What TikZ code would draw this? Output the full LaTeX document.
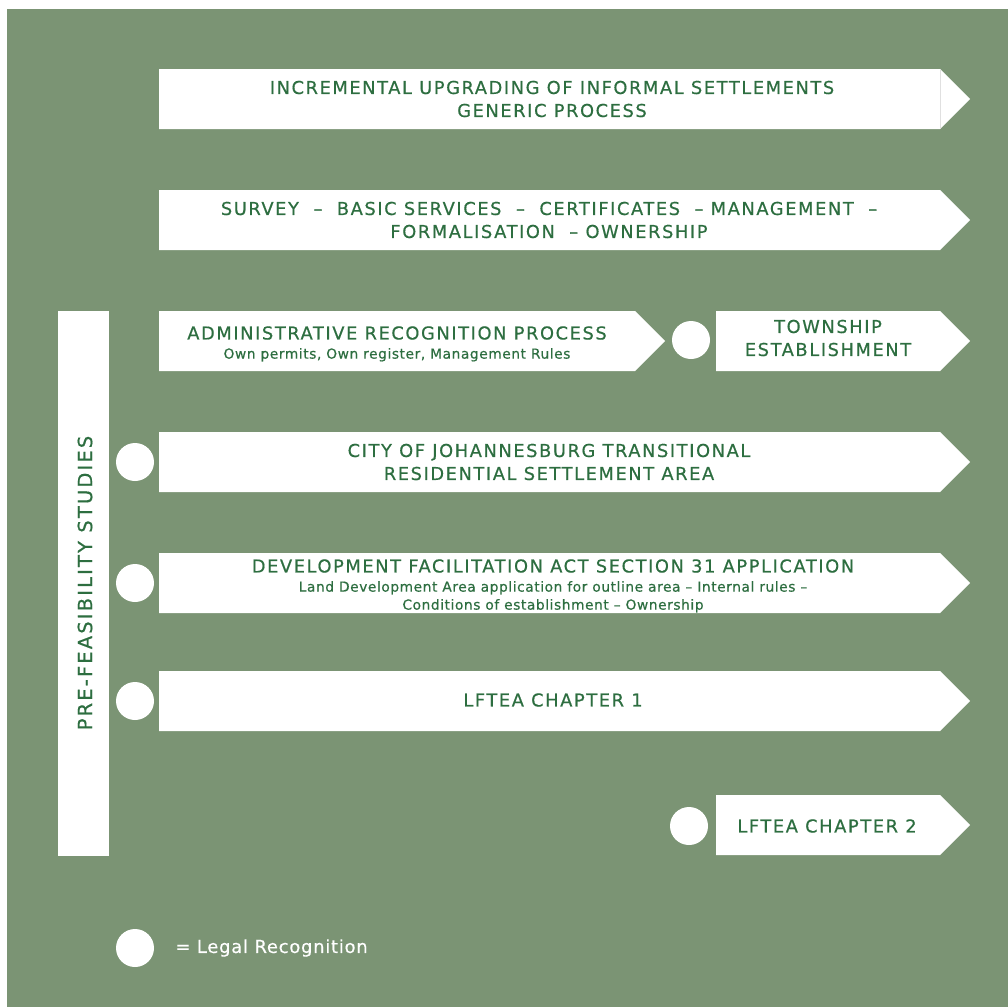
\documentclass[tikz,border=0pt]{standalone}
\usepackage{fontspec}
\setmainfont{DejaVu Sans}
\newfontfamily\capsfont{DejaVu Sans}[LetterSpace=9, FakeBold=0.5]
\newfontfamily\notefont{DejaVu Sans}[LetterSpace=4, FakeBold=0.4]
\usepackage{xcolor}
\definecolor{sagebg}{HTML}{7B9474}
\definecolor{textgreen}{HTML}{2D6E40}
\usepackage{tikz}
\usetikzlibrary{positioning}

\begin{document}
\begin{tikzpicture}[x=1pt, y=-1pt,
    bigtext/.style={font=\capsfont\fontsize{17.8}{23}\selectfont, text=textgreen, align=center, inner sep=0pt},
    smalltext/.style={font=\notefont\fontsize{13.8}{18}\selectfont, text=textgreen, align=center, inner sep=0pt},
    legalmark/.style={circle, fill=white, minimum size=38pt, inner sep=0pt}]
    \useasboundingbox (0,0) rectangle (1008,1007);
    \fill[sagebg] (7,9) rectangle (1008,1007);
    % arrow shapes
    \fill[white] (159,69) -- (940,69) -- (970,99) -- (940,129) -- (159,129) -- cycle;
    \draw[black!12, line width=0.8pt] (940,69) -- (940,129);
    \fill[white] (159,190) -- (940,190) -- (970,220) -- (940,250) -- (159,250) -- cycle;
    \fill[white] (159,311) -- (635,311) -- (665,341) -- (635,371) -- (159,371) -- cycle;
    \fill[white] (716,311) -- (940,311) -- (970,341) -- (940,371) -- (716,371) -- cycle;
    \fill[white] (159,432) -- (940,432) -- (970,462) -- (940,492) -- (159,492) -- cycle;
    \fill[white] (159,553) -- (940,553) -- (970,583) -- (940,613) -- (159,613) -- cycle;
    \fill[white] (159,671) -- (940,671) -- (970,701) -- (940,731) -- (159,731) -- cycle;
    \fill[white] (716,795) -- (940,795) -- (970,825) -- (940,855) -- (716,855) -- cycle;
    \fill[white] (58,311) rectangle (109,856);
    % labels
    \node[bigtext] (upgrade) at (552,99) {INCREMENTAL UPGRADING OF INFORMAL SETTLEMENTS\\GENERIC PROCESS};
    \node[bigtext] (survey) at (549,220) {SURVEY~~–~~BASIC SERVICES~~–~~CERTIFICATES~~– MANAGEMENT~~–\\FORMALISATION~~– OWNERSHIP};
    \node[bigtext] (admin) at (397,333) {ADMINISTRATIVE RECOGNITION PROCESS};
    \node[smalltext, below=8pt of admin] (adminsub) {Own permits, Own register, Management Rules};
    \node[bigtext] (township) at (828,338) {TOWNSHIP\\ESTABLISHMENT};
    \node[bigtext] (city) at (549,462) {CITY OF JOHANNESBURG TRANSITIONAL\\RESIDENTIAL SETTLEMENT AREA};
    \node[bigtext] (dfa) at (553,566) {DEVELOPMENT FACILITATION ACT SECTION 31 APPLICATION};
    \node[smalltext, below=8pt of dfa] (dfasub) {Land Development Area application for outline area – Internal rules –\\Conditions of establishment – Ownership};
    \node[bigtext] (lftea1) at (553,700) {LFTEA CHAPTER 1};
    \node[bigtext] (lftea2) at (827,826) {LFTEA CHAPTER 2};
    \node[bigtext, rotate=90, font=\capsfont\addfontfeature{LetterSpace=11}\fontsize{19.5}{23}\selectfont] (prefeas) at (85,583) {PRE-FEASIBILITY STUDIES};
    % legal recognition marks
    \node[legalmark] (mark1) at (691,340) {};
    \node[legalmark] (mark2) at (135,462) {};
    \node[legalmark] (mark3) at (135,583) {};
    \node[legalmark] (mark4) at (135,701) {};
    \node[legalmark] (mark5) at (689,826) {};
    \node[legalmark] (markkey) at (135,948) {};
    \node[right=21pt of markkey, font=\notefont\fontsize{18}{20}\selectfont, text=white, inner sep=0pt] (keytext) {= Legal Recognition};
\end{tikzpicture}
\end{document}
